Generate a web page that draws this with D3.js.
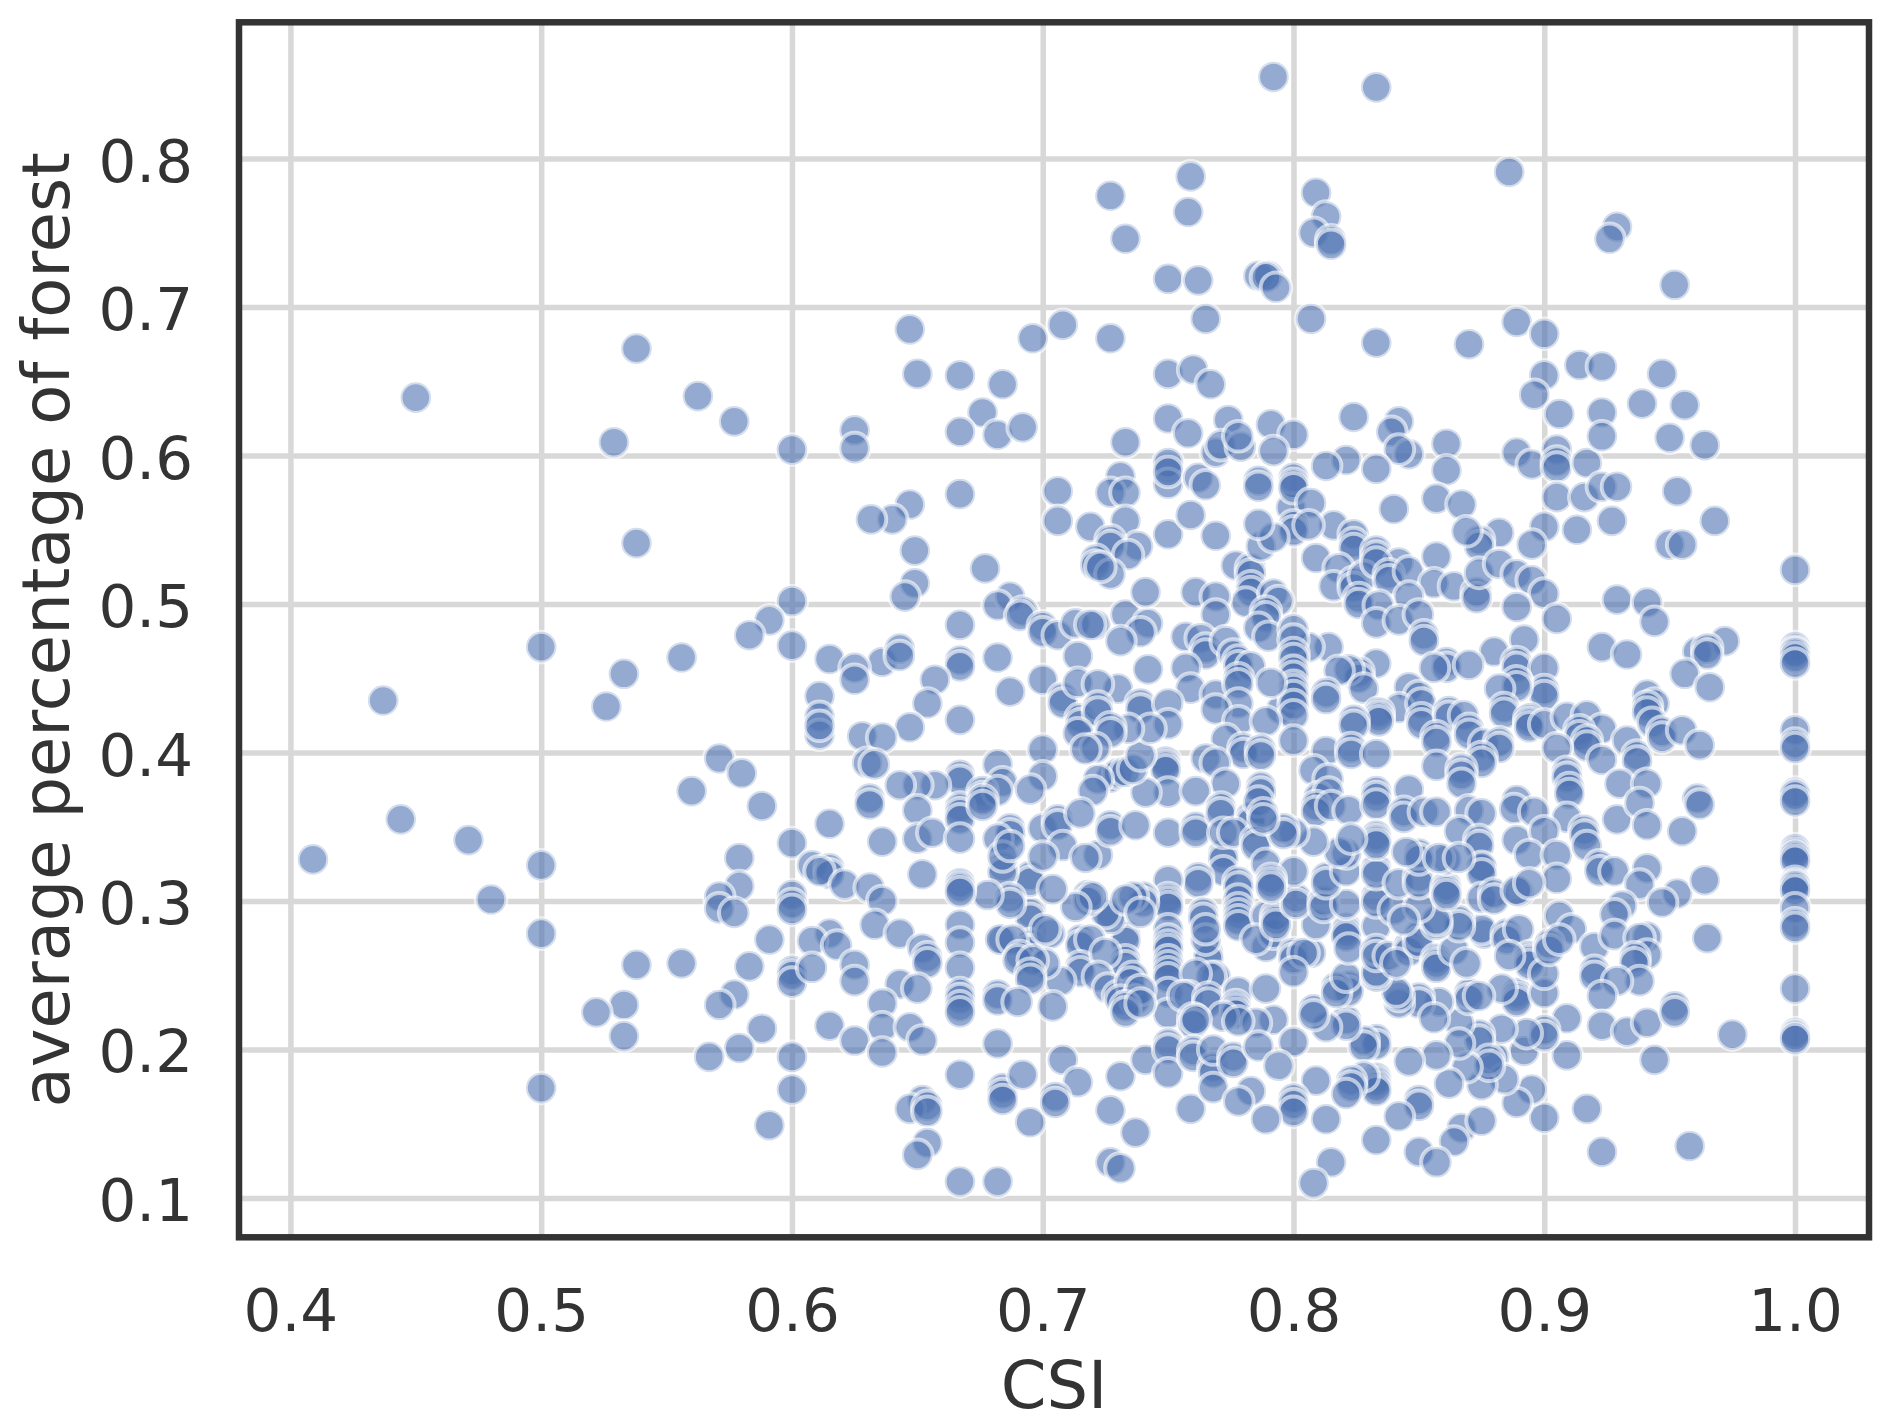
<!DOCTYPE html>
<html><head><meta charset="utf-8">
<script src="https://cdn.jsdelivr.net/npm/d3@7"></script>
<style>html,body{margin:0;background:#fff}svg{display:block}</style>
</head><body><svg id="c" width="1892" height="1428"></svg>
<script>
// [CSI, average percentage of forest]
const leftPoints=[[.538,.672],[.450,.639],[.5625,.640],[.577,.623],[.529,.609],[.600,.604],[.538,.541],[.600,.502],[.591,.489],[.583,.479],[.600,.472],[.500,.471],[.556,.464],[.533,.453],[.437,.435],[.526,.431],
[.571,.396],[.580,.386],[.560,.374],[.588,.364],[.444,.355],[.471,.341],[.409,.328],[.600,.339],[.500,.324],[.579,.329],[.579,.310],[.480,.301],[.571,.303],[.571,.295],[.577,.292],[.600,.304],[.600,.298],[.600,.294],[.500,.278],[.591,.274],[.538,.257],[.556,.258],[.583,.256],[.600,.253],[.600,.250],[.600,.245],[.577,.237],[.571,.230],[.533,.230],[.522,.225],[.533,.209],[.588,.214],[.579,.201],[.567,.195],[.600,.195],[.500,.174],[.600,.173],[.591,.149]];
const topPoints=[[.792,.855],[.759,.788],[.727,.775],[.758,.764],[.733,.746],[.750,.719],[.762,.718],[.786,.721],[.790,.721],[.789,.720],[.793,.713],[.647,.685],[.696,.679],[.708,.688],[.727,.679],[.765,.692],[.650,.655],[.667,.654],[.684,.648],[.750,.655],[.760,.658],[.767,.648],
[.833,.848],[.886,.791],[.809,.777],[.813,.761],[.808,.750],[.815,.745],[.815,.742],[.929,.754],[.926,.746],[.952,.715],[.807,.692],[.833,.676],[.870,.675],[.889,.690],[.900,.682],[.914,.661],[.923,.660],[.900,.654],[.896,.641],[.947,.655]];
const upperLeftPoints=[[.625,.617],[.625,.605],[.676,.629],[.667,.616],[.682,.614],[.692,.619],[.667,.574],[.647,.567],[.640,.557],[.6315,.557],[.649,.536],[.649,.514],[.645,.505],[.677,.524],[.687,.505],[.682,.499],[.692,.495],[.691,.492],[.700,.485],[.700,.481],[.706,.479],[.713,.487],[.721,.486],[.719,.486],[.733,.493],[.742,.487],[.739,.481],[.731,.475],[.706,.576],[.706,.556],[.719,.552],[.731,.586],[.727,.575],[.733,.575],[.733,.609],[.733,.556],[.738,.539],[.727,.543],[.727,.539],[.734,.533],[.721,.530],[.721,.526],[.727,.520],[.723,.525],[.741,.508],
[.750,.625],[.758,.615],[.750,.592],[.750,.595],[.750,.581],[.750,.589],[.762,.585],[.765,.580],[.750,.547],[.759,.560],[.769,.546],[.774,.624],[.769,.602],[.771,.607],[.779,.606],[.778,.613],[.799,.565],[.777,.526],[.783,.524],[.783,.520],[.783,.512],[.783,.508],[.781,.501],[.761,.508],[.769,.505],[.769,.493],[.792,.507],[.794,.502],[.789,.495],[.789,.491],[.786,.484],[.790,.478],[.757,.478],[.763,.477],[.765,.470],[.765,.466],[.773,.475],[.776,.466],[.778,.462],[.778,.458],[.783,.458],[.757,.457],[.759,.443],[.769,.439],[.778,.450],[.778,.446],[.778,.433],[.769,.429],[.778,.421],[.795,.429],[.773,.409],[.780,.403],[.780,.399],[.765,.396],[.769,.393],[.773,.379],[.749,.394],[.749,.391],[.749,.388],[.750,.373],[.761,.374],[.741,.373],[.727,.383],[.730,.386],[.733,.387],[.736,.389],[.739,.398],[.722,.382],[.720,.374],
[.667,.486],[.615,.463],[.636,.461],[.643,.470],[.643,.465],[.625,.457],[.625,.449],[.667,.462],[.667,.458],[.682,.464],[.657,.449],[.654,.433],[.687,.441],[.667,.422],[.647,.417],[.611,.438],[.611,.424],[.611,.412],[.611,.418],[.628,.411],[.636,.410],[.630,.393],[.633,.392],[.700,.449],[.714,.465],[.742,.456],[.730,.443],[.708,.437],[.708,.433],[.714,.447],[.722,.446],[.715,.423],[.715,.419],[.722,.431],[.722,.427],[.739,.433],[.739,.429],[.750,.433],[.750,.419],[.743,.416],[.734,.416],[.727,.417],[.727,.413],[.714,.413],[.721,.403],[.717,.402],[.700,.402],[.700,.384],[.682,.392],[.684,.380],[.695,.375],[.667,.385],[.667,.381],[.657,.378],[.650,.378],[.643,.378],[.676,.374],[.676,.370],[.682,.374],[.631,.369]];
const upperRightPoints=[[.791,.621],[.800,.614],[.792,.603],[.824,.626],[.842,.623],[.839,.616],[.846,.601],[.842,.604],[.861,.608],[.861,.590],[.821,.597],[.813,.593],[.833,.591],[.800,.585],[.800,.581],[.800,.578],[.786,.583],[.786,.579],[.807,.568],[.840,.564],[.857,.571],[.867,.567],[.889,.602],[.895,.594],[.905,.604],[.905,.596],[.905,.592],[.917,.595],[.906,.628],[.923,.629],[.923,.613],[.939,.635],[.956,.634],[.950,.612],[.964,.607],[.905,.572],[.916,.572],[.923,.579],[.929,.579],[.953,.576],[.927,.556],[.913,.550],[.900,.552],[.968,.556],[.895,.540],[.882,.548],[.874,.543],[.874,.539],[.869,.549],[.950,.540],[.955,.540],[.816,.553],[.824,.547],[.824,.541],[.824,.537],[.809,.531],[.800,.553],[.800,.549],[.806,.553],[.787,.539],[.792,.545],[.786,.554],[.833,.536],[.833,.532],[.842,.528],[.818,.524],[.816,.512],[.824,.515],[.824,.511],[.828,.519],[.833,.528],[.838,.520],[.838,.516],[.846,.522],[.857,.532],[.856,.514],[.864,.512],[.873,.508],[.873,.504],[.874,.521],[.882,.527],[.889,.520],[.895,.516],[.900,.507],[.889,.498],[.905,.490],[.846,.505],[.826,.504],[.826,.500],[.834,.499],[.833,.487],[.842,.489],[.850,.493],[.852,.479],[.852,.475],[.929,.503],[.941,.501],[.944,.488],[.923,.471],[.933,.466],[.972,.475],[.961,.468],[.965,.470],[.965,.466],[.956,.453],[.966,.444],[.892,.476],[.880,.468],[.889,.461],[.889,.457],[.900,.457],[.900,.442],[.900,.438],[.889,.448],[.889,.444],[.882,.443],[.884,.430],[.884,.426],[.894,.423],[.894,.420],[.894,.417],[.900,.419],[.861,.461],[.861,.457],[.856,.457],[.870,.459],[.833,.460],[.814,.471],[.806,.471],[.800,.483],[.800,.476],[.800,.467],[.800,.463],[.800,.455],[.800,.451],[.800,.445],[.800,.442],[.800,.438],[.800,.432],[.800,.425],[.800,.408],[.791,.447],[.826,.454],[.826,.450],[.822,.456],[.818,.455],[.828,.443],[.813,.440],[.813,.436],[.846,.444],[.850,.438],[.842,.430],[.851,.433],[.834,.427],[.834,.424],[.834,.421],[.824,.422],[.824,.418],[.789,.421],[.813,.401],[.823,.403],[.823,.399],[.833,.399],[.851,.423],[.851,.419],[.862,.428],[.862,.424],[.868,.425],[.857,.411],[.857,.407],[.870,.416],[.870,.412],[.876,.406],[.882,.407],[.882,.403],[.875,.397],[.875,.393],[.857,.391],[.867,.389],[.867,.385],[.867,.379],[.909,.424],[.917,.425],[.923,.416],[.914,.415],[.914,.411],[.917,.408],[.917,.404],[.905,.403],[.923,.395],[.933,.408],[.937,.398],[.937,.394],[.909,.387],[.909,.383],[.910,.376],[.910,.372],[.930,.379],[.941,.379],[.941,.439],[.944,.433],[.941,.431],[.941,.427],[.943,.420],[.947,.414],[.947,.410],[.955,.415],[.962,.405],[.808,.388],[.814,.382],[.787,.402],[.787,.398],[.787,.377],[.787,.373],[.833,.374],[.833,.370],[.846,.375],[.810,.370],[.814,.373],[.961,.369],[.889,.368]];
const lowerLeftPoints=[[.631,.365],[.650,.361],[.615,.352],[.636,.340],[.650,.342],[.656,.346],[.652,.318],[.667,.363],[.667,.359],[.667,.355],[.667,.342],[.676,.368],[.676,.364],[.687,.349],[.687,.345],[.700,.349],[.706,.355],[.706,.351],[.715,.359],[.708,.337],[.722,.331],[.717,.329],[.682,.342],[.727,.351],[.727,.347],[.737,.351],[.750,.346],[.761,.350],[.761,.346],[.771,.363],[.771,.359],[.783,.357],[.783,.353],[.786,.367],[.772,.332],[.772,.328],[.772,.346],[.776,.346],[.772,.320],[.785,.341],[.785,.337],[.789,.325],[.778,.313],[.778,.309],[.778,.301],[.762,.316],[.762,.312],[.750,.314],[.750,.302],[.750,.299],[.750,.296],[.764,.292],[.764,.288],[.778,.295],[.778,.291],[.778,.287],[.778,.283],[.789,.269],[.789,.290],[.792,.278],[.785,.274],[.766,.265],[.766,.261],[.765,.274],[.765,.281],[.750,.281],[.750,.274],[.750,.270],[.750,.267],[.750,.260],[.750,.256],[.750,.252],[.750,.248],[.750,.238],[.750,.224],[.769,.249],[.767,.249],[.761,.251],[.758,.236],[.756,.236],[.766,.235],[.766,.231],[.778,.239],[.777,.230],[.777,.227],[.777,.224],[.772,.222],[.760,.221],[.760,.217],[.761,.220],[.792,.220],[.785,.218],
[.733,.277],[.733,.273],[.733,.260],[.733,.256],[.736,.249],[.727,.292],[.727,.288],[.725,.292],[.718,.304],[.718,.300],[.720,.303],[.713,.296],[.740,.303],[.740,.299],[.736,.303],[.733,.301],[.739,.292],[.715,.274],[.715,.270],[.719,.274],[.715,.256],[.715,.252],[.707,.246],[.725,.265],[.722,.249],[.726,.241],[.730,.236],[.736,.238],[.736,.234],[.735,.245],[.731,.233],[.737,.233],[.739,.240],[.733,.229],[.733,.225],[.739,.231],[.704,.229],[.695,.292],[.695,.288],[.695,.317],[.695,.313],[.704,.308],[.684,.323],[.684,.319],[.684,.330],[.687,.337],[.687,.302],[.687,.298],[.678,.304],[.700,.330],[.695,.271],[.695,.267],[.684,.274],[.683,.274],[.688,.274],[.703,.278],[.691,.263],[.701,.258],[.690,.260],[.696,.260],[.695,.251],[.695,.247],[.701,.281],[.667,.312],[.667,.309],[.667,.306],[.667,.284],[.667,.272],[.667,.255],[.667,.238],[.667,.234],[.667,.229],[.667,.225],[.682,.237],[.682,.233],[.690,.232],
[.608,.324],[.615,.322],[.615,.318],[.611,.320],[.621,.311],[.631,.309],[.636,.300],[.633,.284],[.643,.278],[.652,.268],[.654,.262],[.654,.258],[.615,.278],[.608,.273],[.618,.270],[.625,.257],[.625,.246],[.608,.255],[.643,.244],[.650,.241],[.636,.231],[.636,.215],[.615,.216],[.625,.206],[.647,.215],[.652,.206],[.636,.198],[.682,.204],[.667,.183],[.652,.166],[.647,.160],[.654,.162],[.654,.158],[.654,.137],[.650,.129],[.667,.111],[.682,.111],[.684,.174],[.684,.170],[.684,.166],[.692,.183],[.695,.151],[.708,.193],[.714,.178],[.705,.168],[.705,.164],[.731,.182],[.727,.159],[.737,.144],[.727,.124],[.731,.120],[.741,.193],[.750,.204],[.750,.200],[.750,.184],[.759,.160],[.760,.199],[.760,.195],[.768,.188],[.768,.184],[.768,.174],[.768,.200],[.776,.195],[.776,.191],[.783,.172],[.778,.165],[.778,.219]];
const lowerRightPoints=[[.809,.364],[.809,.360],[.815,.364],[.822,.361],[.833,.365],[.844,.360],[.844,.356],[.852,.360],[.857,.360],[.870,.361],[.875,.359],[.888,.362],[.896,.360],[.909,.356],[.916,.348],[.916,.344],[.929,.355],[.938,.366],[.941,.351],[.955,.347],[.962,.365],[.866,.347],[.874,.341],[.874,.337],[.889,.341],[.900,.347],[.894,.331],[.905,.331],[.905,.315],[.917,.337],[.922,.324],[.922,.320],[.928,.320],[.941,.322],[.938,.311],[.953,.305],[.947,.299],[.964,.314],[.931,.297],[.928,.291],[.965,.275],[.906,.290],[.911,.281],[.920,.269],[.928,.277],[.941,.276],[.938,.275],[.941,.264],[.936,.262],[.936,.258],[.938,.246],[.920,.253],[.920,.249],[.929,.246],[.923,.236],[.923,.216],[.933,.212],[.941,.218],[.952,.229],[.952,.225],[.944,.193],[.975,.210],[.909,.221],[.909,.196],[.917,.160],[.923,.131],[.958,.135],[.900,.154],[.895,.173],[.889,.164],[.892,.199],[.900,.213],[.900,.209],[.893,.211],[.880,.195],[.883,.214],[.884,.180],[.875,.176],[.874,.210],[.874,.206],[.878,.193],[.878,.189],[.869,.188],[.866,.218],[.866,.204],[.862,.177],[.857,.196],[.846,.192],[.833,.207],[.833,.203],[.828,.206],[.828,.202],[.821,.220],[.821,.216],[.813,.215],[.808,.227],[.808,.223],[.800,.205],[.786,.202],[.794,.189],[.809,.179],[.833,.181],[.833,.178],[.833,.175],[.833,.172],[.828,.182],[.823,.179],[.823,.175],[.821,.170],[.800,.167],[.800,.163],[.800,.158],[.789,.153],[.813,.153],[.850,.166],[.850,.162],[.842,.155],[.833,.139],[.867,.147],[.875,.152],[.864,.138],[.850,.131],[.857,.124],[.815,.124],[.808,.110],[.789,.241],[.889,.238],[.889,.235],[.889,.232],[.900,.238],[.883,.241],[.870,.238],[.870,.234],[.874,.236],[.858,.232],[.850,.235],[.850,.231],[.842,.231],[.842,.236],[.841,.239],[.856,.221],[.822,.243],[.822,.239],[.817,.242],[.817,.238],[.821,.249],[.833,.249],[.800,.265],[.800,.261],[.807,.265],[.804,.265],[.800,.252],[.833,.252],[.821,.282],[.821,.279],[.821,.276],[.822,.268],[.833,.283],[.833,.267],[.833,.263],[.838,.263],[.846,.270],[.846,.266],[.841,.258],[.850,.277],[.850,.272],[.857,.261],[.857,.258],[.857,.255],[.864,.267],[.869,.258],[.876,.278],[.875,.281],[.866,.287],[.866,.283],[.857,.284],[.857,.287],[.885,.278],[.885,.274],[.890,.281],[.894,.263],[.894,.260],[.894,.257],[.900,.251],[.886,.263],[.902,.271],[.902,.267],[.906,.274],[.793,.290],[.793,.287],[.793,.284],[.809,.284],[.801,.302],[.801,.298],[.812,.300],[.812,.296],[.821,.298],[.833,.303],[.833,.299],[.840,.294],[.850,.296],[.844,.287],[.800,.320],[.791,.315],[.791,.312],[.791,.309],[.813,.316],[.813,.312],[.821,.320],[.821,.332],[.833,.322],[.833,.318],[.842,.312],[.850,.316],[.850,.312],[.861,.310],[.861,.307],[.861,.304],[.875,.322],[.875,.323],[.875,.318],[.875,.302],[.880,.305],[.880,.301],[.890,.306],[.889,.307],[.894,.312],[.861,.328],[.850,.332],[.850,.328],[.858,.329],[.866,.329],[.833,.344],[.833,.341],[.833,.338],[.845,.333],[.818,.333],[.808,.340],[.823,.342],[.800,.346],[.796,.349],[.796,.345],[.788,.359],[.788,.355]];
const fullScorePoints=[[1,.523],[1,.471],[1,.468],[1,.467],[1,.464],[1,.460],[1,.415],[1,.406],[1,.403],[1,.373],[1,.371],[1,.367],[1,.335],[1,.332],[1,.330],[1,.327],[1,.313],[1,.311],[1,.310],[1,.307],[1,.295],[1,.285],[1,.282],[1,.241],[1,.211],[1,.209],[1,.207]];
const xTicks=[.4,.5,.6,.7,.8,.9,1.0];
const yTicks=[.1,.2,.3,.4,.5,.6,.7,.8];
const xTitle="CSI", yTitle="average percentage of forest";

const points=[...leftPoints,...topPoints,...upperLeftPoints,...upperRightPoints,...lowerLeftPoints,...lowerRightPoints,...fullScorePoints];
const pL=239,pR=1869,pT=22.3,pB=1237.3;
const x=d3.scaleLinear().domain([.3795,1.0295]).range([pL,pR]);
const y=d3.scaleLinear().domain([.0735,.8918]).range([pB,pT]);
const font='"DejaVu Sans",sans-serif', ink='#333333', gridC='#d8d8d8';
const svg=d3.select('#c');
const gx=svg.append('g').attr('transform',`translate(0,${pB})`)
  .call(d3.axisBottom(x).tickValues(xTicks).tickFormat(d3.format('.1f')).tickSize(-(pB-pT)).tickPadding(50));
const gy=svg.append('g').attr('transform',`translate(${pL},0)`)
  .call(d3.axisLeft(y).tickValues(yTicks).tickFormat(d3.format('.1f')).tickSize(-(pR-pL)).tickPadding(44));
[gx,gy].forEach(g=>{
  g.select('.domain').remove();
  g.selectAll('line').attr('stroke',gridC).attr('stroke-width',5.5);
  g.selectAll('text').attr('font-family',font).attr('font-size',59.5).attr('fill',ink);
});
gx.selectAll('text').attr('dy',0).attr('y',94);
gy.selectAll('text').attr('dy',0).attr('y',22.5).attr('x',-46);
svg.append('g').selectAll('circle').data(points).join('circle')
  .attr('cx',d=>x(d[0])).attr('cy',d=>y(d[1])).attr('r',15.3)
  .attr('fill','#4c72b0').attr('fill-opacity',.6)
  .attr('stroke','#fff').attr('stroke-opacity',.6).attr('stroke-width',4);
svg.append('rect').attr('x',pL).attr('y',pT).attr('width',pR-pL).attr('height',pB-pT)
  .attr('fill','none').attr('stroke',ink).attr('stroke-width',6.5);
svg.append('text').attr('x',(pL+pR)/2).attr('y',1408).attr('text-anchor','middle')
  .attr('font-family',font).attr('font-size',65.5).attr('fill',ink).text(xTitle);
svg.append('text').attr('transform',`translate(69,${(pT+pB)/2}) rotate(-90)`).attr('text-anchor','middle')
  .attr('font-family',font).attr('font-size',65.5).attr('fill',ink).text(yTitle);
</script></body></html>
